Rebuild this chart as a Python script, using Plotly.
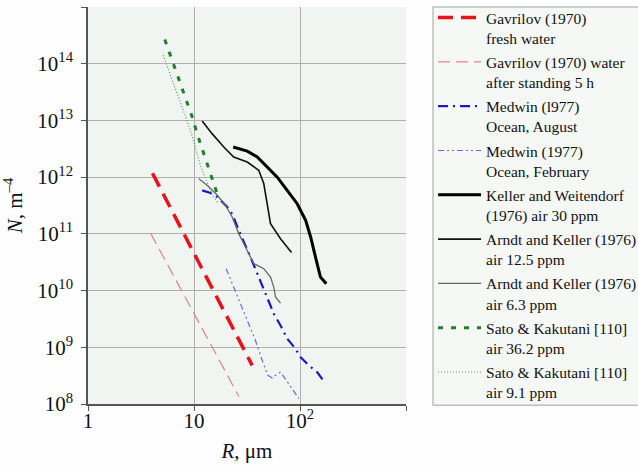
import plotly.graph_objects as go

# ---- data (R in um, N in m^-4) ----
gav_fresh_R = [4.06, 35.4]
gav_fresh_N = [1.17e12, 4.8e8]

gav_stand_R = [3.89, 26.5]
gav_stand_N = [1.03e11, 1.36e8]

med_aug_R = [11.95, 14.3, 16.6, 20.6, 22.9, 26.5, 34.1, 40.9, 45.5, 50.8, 56.6, 65.5, 75.7, 90.7, 101, 121, 145, 174]
med_aug_N = [5.85e11, 5.25e11, 4.46e11, 2.97e11, 2.27e11, 1.15e11, 3.9e10, 1.73e10, 1.0e10, 6.3e9, 3.9e9, 2.43e9, 1.42e9, 9.4e8, 6.7e8, 4.8e8, 3.65e8, 2.28e8]

med_feb_R = [20.1, 23.7, 28.5, 32.9, 38.0, 44.0, 49.7, 54.7, 58.7, 65.5, 72.9, 84.4, 97.4]
med_feb_N = [2.43e10, 1.15e10, 5.1e9, 2.6e9, 1.32e9, 5.9e8, 3.2e8, 2.86e8, 3.2e8, 3.65e8, 2.8e8, 1.86e8, 1.24e8]

keller_R = [23.4, 31.8, 39.5, 49.1, 61.0, 75.7, 94.1, 113, 126, 140, 156, 177]
keller_N = [3.4e12, 2.88e12, 2.26e12, 1.51e12, 1.0e12, 5.85e11, 3.4e11, 1.73e11, 8.8e10, 3.9e10, 1.73e10, 1.32e10]

arndt125_R = [11.95, 14.8, 19.1, 23.7, 31.8, 40.8, 45.5, 49.1, 52.7, 65.5, 83.2]
arndt125_N = [9.75e12, 5.85e12, 3.4e12, 2.26e12, 1.85e12, 1.32e12, 7.7e11, 3.4e11, 1.51e11, 8.2e10, 4.7e10]

arndt63_R = [11.1, 13.3, 16.6, 19.8, 22.9, 26.5, 30.6, 36.7, 45.5, 52.7, 56.6, 58.7, 65.5]
arndt63_N = [9.4e11, 7.2e11, 4.8e11, 3.2e11, 1.98e11, 1.0e11, 5.85e10, 2.98e10, 2.43e10, 1.73e10, 1.15e10, 7.7e9, 6.0e9]

sato362_R = [5.30, 5.91, 6.69, 7.46, 8.49, 9.62, 10.7, 11.95, 13.6, 15.2, 16.8]
sato362_N = [2.66e14, 1.51e14, 8.2e13, 4.46e13, 2.26e13, 1.15e13, 5.85e12, 3.18e12, 1.62e12, 8.0e11, 4.68e11]

sato91_R = [5.12, 9.27, 11.5, 14.9, 17.0]
sato91_N = [1.41e14, 6.7e12, 1.6e12, 4.8e11, 3.45e11]

x_tickvals = [1, 10, 100, 1000]
x_ticktext = ["1", "10", "10<sup>2</sup>", ""]
y_tickvals = [1e8, 1e9, 1e10, 1e11, 1e12, 1e13, 1e14, 1e15]
y_ticktext = ["10<sup>8</sup>", "10<sup>9</sup>", "10<sup>10</sup>", "10<sup>11</sup>",
              "10<sup>12</sup>", "10<sup>13</sup>", "10<sup>14</sup>", ""]

series = [
    (gav_fresh_R, gav_fresh_N, "Gavrilov (1970)<br>fresh water", "#e8121a", 3.5, "15px,8px"),
    (gav_stand_R, gav_stand_N, "Gavrilov (1970) water<br>after standing 5 h", "#e08585", 1.2, "12px,6px"),
    (med_aug_R, med_aug_N, "Medwin (l977)<br>Ocean, August", "#1818c8", 2.2, "10px,5px,2px,5px"),
    (med_feb_R, med_feb_N, "Medwin (1977)<br>Ocean, February", "#6a6ae0", 1.2, "6px,3px,2px,3px,2px,3px"),
    (keller_R, keller_N, "Keller and Weitendorf<br>(1976) air 30 ppm", "#000000", 3.0, "solid"),
    (arndt125_R, arndt125_N, "Arndt and Keller (1976)<br>air 12.5 ppm", "#111111", 1.6, "solid"),
    (arndt63_R, arndt63_N, "Arndt and Keller (1976)<br>air 6.3 ppm", "#666666", 1.3, "solid"),
    (sato362_R, sato362_N, "Sato & Kakutani [110]<br>air 36.2 ppm", "#1f7f2a", 3.0, "5px,8px"),
    (sato91_R, sato91_N, "Sato & Kakutani [110]<br>air 9.1 ppm", "#4f9f55", 1.2, "1px,2px"),
]

fig = go.Figure()
for i, (xs, ys, name, color, width, dash) in enumerate(series):
    fig.add_trace(go.Scatter(x=xs, y=ys, mode="lines", name=name, legendgroup=f"g{i}",
                             line=dict(color=color, width=width, dash=dash)))

font_family = "Liberation Serif"

# legend frame drawn as a paper-referenced rectangle
fig.add_shape(type="rect", xref="paper", yref="paper", x0=1.085, x1=1.75, y0=-0.003, y1=1.0,
              fillcolor="#f5f8f5", line=dict(color="#bcc0bc", width=1.5), layer="below")

fig.update_layout(
    width=638, height=466,
    margin=dict(l=88, r=232, t=7, b=62, autoexpand=False),
    paper_bgcolor="#fdfefd",
    plot_bgcolor="#f1f5f1",
    font=dict(family=font_family, size=17, color="#111111"),
    showlegend=True,
    legend=dict(x=1.085, y=1.015, xanchor="left", yanchor="top",
                bgcolor="rgba(0,0,0,0)", borderwidth=0,
                font=dict(family=font_family, size=15.5, color="#111111"),
                itemwidth=43, tracegroupgap=1, valign="top", maxheight=460),
    xaxis=dict(type="log", range=[0, 3], tickvals=x_tickvals, ticktext=x_ticktext,
               showgrid=True, gridcolor="#afafaf", gridwidth=1.4,
               showline=True, linecolor="#555555", linewidth=1.6,
               ticks="outside", ticklen=5, tickcolor="#555555", tickwidth=1.3,
               ticklabelstandoff=-8,
               tickfont=dict(family=font_family, size=21),
               title=dict(text="<i>R</i>, μm", font=dict(family=font_family, size=21), standoff=11),
               zeroline=False, automargin=False),
    yaxis=dict(type="log", range=[8, 15], tickvals=y_tickvals, ticktext=y_ticktext,
               showgrid=True, gridcolor="#afafaf", gridwidth=1.4,
               showline=True, linecolor="#555555", linewidth=1.6,
               ticks="outside", ticklen=5, tickcolor="#555555", tickwidth=1.3,
               ticklabelstandoff=4,
               tickfont=dict(family=font_family, size=21),
               title=dict(text="<i>N</i>, m<sup>–4</sup>", font=dict(family=font_family, size=21), standoff=10),
               zeroline=False, automargin=False),
)

fig.write_html("out.html", config={"displayModeBar": False},
               post_script="document.body.style.margin='0px';")
